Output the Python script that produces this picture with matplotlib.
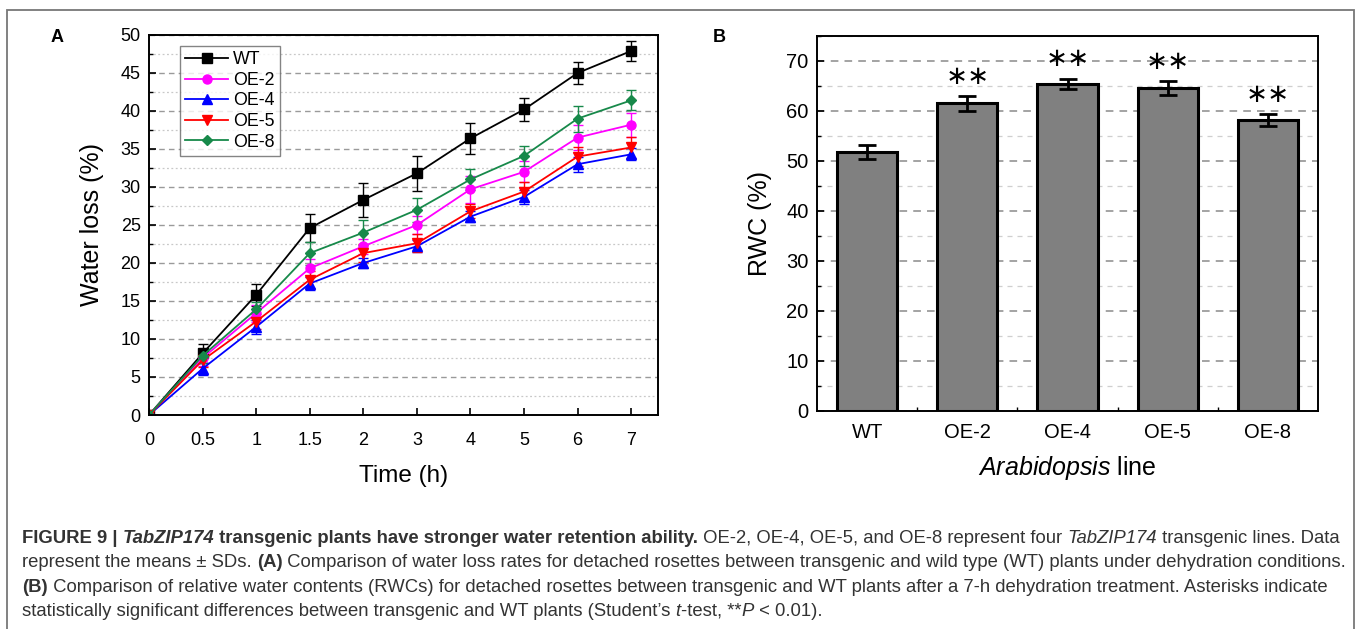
import matplotlib
matplotlib.use("Agg")
import matplotlib.pyplot as plt
from matplotlib.patches import Rectangle
from matplotlib.ticker import MultipleLocator, FixedLocator

plt.rcParams["font.family"] = ["Liberation Sans", "DejaVu Sans"]
plt.rcParams["mathtext.fontset"] = "custom"
plt.rcParams["mathtext.it"] = "Liberation Sans:italic"

# ── Data ──────────────────────────────────────────────────────────────────────
time_labels = ["0", "0.5", "1", "1.5", "2", "3", "4", "5", "6", "7"]

wt_loss  = [0, 8.1, 15.8, 24.6, 28.3, 31.8, 36.4, 40.2, 45.0, 47.9]
oe2_loss = [0, 7.5, 13.4, 19.3, 22.2, 25.0, 29.7, 32.0, 36.5, 38.2]
oe4_loss = [0, 6.1, 11.6, 17.3, 20.0, 22.2, 26.1, 28.7, 33.0, 34.3]
oe5_loss = [0, 7.2, 12.3, 17.8, 21.3, 22.6, 26.8, 29.4, 34.0, 35.2]
oe8_loss = [0, 7.8, 13.9, 21.3, 24.0, 27.0, 31.0, 34.1, 39.0, 41.4]

wt_err  = [0, 1.3, 1.5, 1.9, 2.2, 2.3, 2.0, 1.5, 1.4, 1.3]
oe2_err = [0, 1.0, 1.1, 1.2, 1.0, 1.2, 1.8, 1.4, 1.6, 1.6]
oe4_err = [0, 0.8, 0.9, 0.9, 0.7, 0.8, 0.7, 0.9, 1.0, 0.8]
oe5_err = [0, 0.9, 1.0, 1.1, 1.2, 1.2, 0.9, 1.3, 1.3, 1.4]
oe8_err = [0, 0.9, 1.0, 1.5, 1.6, 1.6, 1.4, 1.3, 1.7, 1.3]

lines = ["WT", "OE-2", "OE-4", "OE-5", "OE-8"]
rwc     = [51.8, 61.6, 65.5, 64.6, 58.3]
rwc_err = [1.4, 1.5, 1.0, 1.4, 1.2]
rwc_sig = ["", "**", "**", "**", "**"]

# ── Figure ────────────────────────────────────────────────────────────────────
W, H = 1360, 629
fig = plt.figure(figsize=(W / 100, H / 100), dpi=100)

# outer frame
fig.add_artist(Rectangle((7 / W, -0.01), 1347 / W, 1 - 10 / H + 0.01,
                         transform=fig.transFigure, fill=False,
                         edgecolor="#777777", linewidth=1.3))

# ── Panel A — water loss ─────────────────────────────────────────────────────
ax = fig.add_axes([149 / W, 1 - 415 / H, 509 / W, 380 / H])
x = list(range(len(time_labels)))
styles = [
    ("WT",   wt_loss,  wt_err,  "black",   "s"),
    ("OE-2", oe2_loss, oe2_err, "#ff00ff", "o"),
    ("OE-4", oe4_loss, oe4_err, "#0000ff", "^"),
    ("OE-5", oe5_loss, oe5_err, "#ff0000", "v"),
    ("OE-8", oe8_loss, oe8_err, "#17894a", "D"),
]
handles = []
for name, y, e, c, m in styles:
    eb = ax.errorbar(x, y, yerr=e, color=c, marker=m, markersize=6.5 if m != "D" else 5.5,
                     linewidth=1.3, elinewidth=1.0, capsize=3.5, capthick=1.0, label=name)
    handles.append(eb.lines[0])

ax.set_xlim(0, 9.5)
ax.set_ylim(0, 50)
ax.set_xticks(x)
ax.set_xticklabels(time_labels)
ax.yaxis.set_major_locator(MultipleLocator(5))
ax.yaxis.set_minor_locator(MultipleLocator(2.5))
ax.tick_params(axis="both", which="major", direction="in", length=5, width=1.2,
               labelsize=13)
ax.tick_params(axis="x", which="major", pad=12)
ax.tick_params(axis="y", which="major", pad=6)
ax.tick_params(axis="y", which="minor", direction="in", length=3, width=1.0)
ax.grid(axis="y", which="major", linestyle=(0, (4, 3)), color="#9a9a9a", linewidth=1.0)
ax.grid(axis="y", which="minor", linestyle=(0, (1.5, 2)), color="#c8c8c8", linewidth=0.9)
ax.set_axisbelow(True)
for s in ax.spines.values():
    s.set_linewidth(1.4)
ax.set_xlabel("Time (h)", fontsize=17.5, labelpad=12)
ax.set_ylabel("Water loss (%)", fontsize=18, labelpad=12)
leg = ax.legend(handles, [s[0] for s in styles], loc="upper left",
                bbox_to_anchor=(31 / 509, 1 - 11 / 380), borderaxespad=0,
                fontsize=12.8, frameon=True, fancybox=False, edgecolor="#666666",
                handlelength=2.4, handletextpad=0.3, borderpad=0.3, labelspacing=0.2)
leg.get_frame().set_linewidth(1.0)

# ── Panel B — RWC ─────────────────────────────────────────────────────────────
bx = fig.add_axes([817 / W, 1 - 411 / H, 501 / W, 375 / H])
pos = list(range(len(lines)))
bx.bar(pos, rwc, width=0.6, color="#808080", edgecolor="black", linewidth=2.2, zorder=2)
bx.errorbar(pos, rwc, yerr=rwc_err, fmt="none", ecolor="black", elinewidth=2.0,
            capsize=6.5, capthick=2.0, zorder=3)
for p, v, e, s in zip(pos, rwc, rwc_err, rwc_sig):
    if s:
        bx.text(p, v + e + 1.2, "∗∗", ha="center", va="bottom", fontsize=19,
                family="DejaVu Sans")
bx.set_xlim(-0.5, 4.5)
bx.set_ylim(0, 75)
bx.set_xticks(pos)
bx.set_xticklabels(lines)
bx.xaxis.set_minor_locator(FixedLocator([0.5, 1.5, 2.5, 3.5]))
bx.yaxis.set_major_locator(MultipleLocator(10))
bx.yaxis.set_minor_locator(MultipleLocator(5))
bx.tick_params(axis="both", which="major", direction="in", length=5, width=1.2,
               labelsize=14.5)
bx.tick_params(axis="x", which="major", pad=9)
bx.tick_params(axis="y", which="major", pad=6)
bx.tick_params(axis="both", which="minor", direction="in", length=3, width=1.0)
bx.grid(axis="y", which="major", linestyle=(0, (5, 4)), color="#8a8a8a", linewidth=1.1)
bx.grid(axis="y", which="minor", linestyle=(0, (4, 4)), color="#cfcfcf", linewidth=0.9)
bx.set_axisbelow(True)
for s in bx.spines.values():
    s.set_linewidth(1.4)
bx.set_ylabel("RWC (%)", fontsize=18, labelpad=10)
bx.set_xlabel("$\\mathit{Arabidopsis}$ line", fontsize=18, labelpad=8)

fig.text(57 / W, 1 - 37 / H, "A", fontsize=13, fontweight="bold", va="center", ha="center")
fig.text(719 / W, 1 - 37 / H, "B", fontsize=13, fontweight="bold", va="center", ha="center")

# ── Caption ──────────────────────────────────────────────────────────────────
cap = fig.add_axes([0, 0, 1, 1])
cap.axis("off")
cap.set_zorder(-1)
cap_color = "#333333"
cap_size = 13.3

caption_lines = [
    [("FIGURE 9 | ", "bold", "normal"), ("TabZIP174", "bold", "italic"),
     (" transgenic plants have stronger water retention ability.", "bold", "normal"),
     (" OE-2, OE-4, OE-5, and OE-8 represent four ", "normal", "normal"),
     ("TabZIP174", "normal", "italic"), (" transgenic lines. Data", "normal", "normal")],
    [("represent the means ± SDs. ", "normal", "normal"), ("(A)", "bold", "normal"),
     (" Comparison of water loss rates for detached rosettes between transgenic and wild type (WT) plants under dehydration conditions.", "normal", "normal")],
    [("(B)", "bold", "normal"),
     (" Comparison of relative water contents (RWCs) for detached rosettes between transgenic and WT plants after a 7-h dehydration treatment. Asterisks indicate", "normal", "normal")],
    [("statistically significant differences between transgenic and WT plants (Student\u2019s ", "normal", "normal"),
     ("t", "normal", "italic"), ("-test, **", "normal", "normal"), ("P", "normal", "italic"),
     (" < 0.01).", "normal", "normal")],
]
baselines = [543, 567, 592, 616]
for segs, yb in zip(caption_lines, baselines):
    prev = None
    for text, weight, style in segs:
        if prev is None:
            prev = cap.text(22 / W, 1 - yb / H, text, transform=fig.transFigure,
                            fontsize=cap_size, fontweight=weight, fontstyle=style,
                            color=cap_color, va="baseline", ha="left")
        else:
            prev = cap.annotate(text, xy=(1, 0), xycoords=prev, fontsize=cap_size,
                                fontweight=weight, fontstyle=style, color=cap_color,
                                va="bottom", ha="left")

fig.savefig("out.png", dpi=100)
